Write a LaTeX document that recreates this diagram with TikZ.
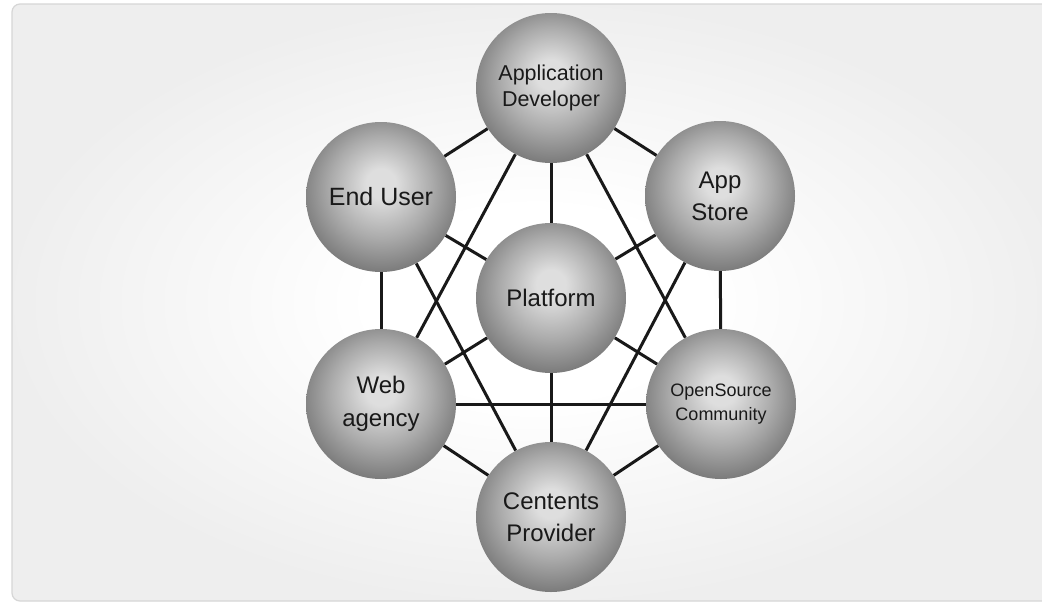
\documentclass[tikz,border=0pt]{standalone}
\usepackage{fontspec}
\setmainfont{Liberation Sans}
\usetikzlibrary{backgrounds}
\definecolor{balhi}{gray}{0.87}
\definecolor{balmid}{gray}{0.67}
\definecolor{ballo}{gray}{0.45}
\definecolor{cardout}{gray}{0.935}
\definecolor{cardedge}{gray}{0.84}
\definecolor{txt}{gray}{0.1}
\pgfdeclareradialshading{sphere}{\pgfpoint{0bp}{5bp}}{%
  color(0bp)=(balhi); color(5bp)=(balhi); color(17bp)=(balmid);
  color(29bp)=(ballo); color(50bp)=(ballo)}
\pgfdeclareradialshading{cardglow}{\pgfpoint{0bp}{0bp}}{%
  color(0bp)=(white); color(8bp)=(white); color(25bp)=(cardout); color(50bp)=(cardout)}
\pgfdeclarelayer{bg}
\pgfdeclarelayer{edges}
\pgfsetlayers{bg,edges,main}
\tikzset{
  ballnode/.style={circle, minimum size=150pt, inner sep=0pt, align=center,
    shading=sphere, text=txt, font=\fontsize{24}{30}\selectfont},
  link/.style={line width=3pt, draw=black!90}
}
\begin{document}
\begin{tikzpicture}[x=1pt,y=-1pt]
\useasboundingbox (0,0) rectangle (1042,603);
\begin{pgfonlayer}{bg}
  \fill[white] (0,0) rectangle (1042,603);
  \path[shading=cardglow, rounded corners=8pt] (12,4) rectangle (1060,601);
  \draw[cardedge, line width=1.2pt, rounded corners=8pt] (12,4) rectangle (1060,601);
\end{pgfonlayer}

\node[ballnode, font=\fontsize{21.5}{26}\selectfont] (ad) at (551,88) {Application\\Developer};
\node[ballnode, font=\fontsize{25}{30}\selectfont] (eu) at (381,197) {End User};
\node[ballnode, font=\fontsize{24}{32}\selectfont] (as) at (720,196) {App\\Store};
\node[ballnode] (pl) at (551,298) {Platform};
\node[ballnode, font=\fontsize{24}{33}\selectfont] (wa) at (381,404) {Web\\agency};
\node[ballnode, font=\fontsize{18}{24}\selectfont] (oc) at (721,404) {OpenSource\\Community};
\node[ballnode, font=\fontsize{24}{32}\selectfont] (cp) at (551,517) {Centents\\Provider};

\begin{pgfonlayer}{edges}
  \draw[link] (ad) -- (eu);
  \draw[link] (ad) -- (as);
  \draw[link] (ad) -- (pl);
  \draw[link] (ad) -- (wa);
  \draw[link] (ad) -- (oc);
  \draw[link] (eu) -- (wa);
  \draw[link] (eu) -- (pl);
  \draw[link] (eu) -- (cp);
  \draw[link] (as) -- (oc);
  \draw[link] (as) -- (pl);
  \draw[link] (as) -- (cp);
  \draw[link] (pl) -- (wa);
  \draw[link] (pl) -- (oc);
  \draw[link] (pl) -- (cp);
  \draw[link] (wa) -- (oc);
  \draw[link] (wa) -- (cp);
  \draw[link] (oc) -- (cp);
\end{pgfonlayer}
\end{tikzpicture}
\end{document}
